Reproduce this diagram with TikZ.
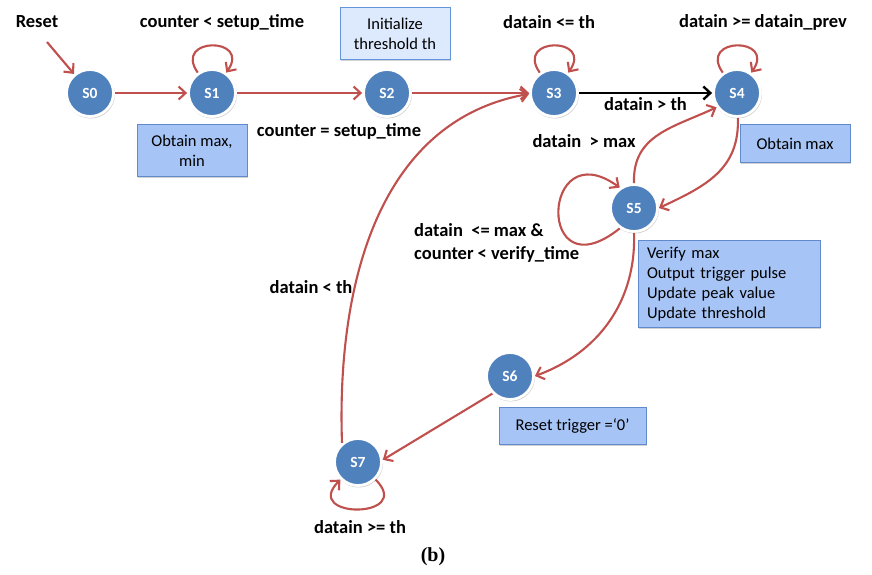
\documentclass[tikz,border=0pt]{standalone}
\usepackage{fontspec}
\setmainfont{Carlito}
\newfontfamily\captionserif{Liberation Serif}
\usepackage{tikz}
\usetikzlibrary{arrows.meta,positioning,shadows}
\definecolor{statefill}{RGB}{79,129,189}
\definecolor{transred}{RGB}{192,80,77}
\definecolor{notefill}{RGB}{166,196,246}
\definecolor{notedraw}{RGB}{96,138,204}
\definecolor{initfill}{RGB}{221,233,252}
\definecolor{initdraw}{RGB}{100,148,218}

\begin{document}
\begin{tikzpicture}[x=1pt, y=1pt,
    state/.style={circle, fill=statefill, draw=white, line width=2.8pt, minimum size=47pt, inner sep=0pt, text=white, font=\fontsize{15.5}{18}\selectfont\bfseries, drop shadow={opacity=0.4, shadow xshift=0.6pt, shadow yshift=-1pt, shadow scale=1.04}},
    note/.style={rectangle, fill=notefill, draw=notedraw, line width=0.9pt, font=\fontsize{16.5}{20}\selectfont, drop shadow={opacity=0.35, shadow xshift=1.2pt, shadow yshift=-1.2pt}},
    cond/.style={font=\fontsize{18.5}{23}\selectfont\bfseries, inner sep=1pt},
    trans/.style={draw=transred, line width=2.1pt, -{Straight Barb[length=7pt,width=13pt]}},
    selfloop/.style={looseness=1, min distance=44pt},
    node distance=6pt
]
    \fill[white] (0,0) rectangle (872,-574);
    \useasboundingbox (0,0) rectangle (872,-574);

    % states
    \node[state] (s0) at (90,-93) {S0};
    \node[state] (s1) at (212,-93) {S1};
    \node[state] (s2) at (387,-93) {S2};
    \node[state] (s3) at (554,-93) {S3};
    \node[state] (s4) at (737,-93) {S4};
    \node[state] (s5) at (634,-208) {S5};
    \node[state] (s6) at (510,-376) {S6};
    \node[state] (s7) at (358,-462) {S7};

    % actions of the states
    \node[note, minimum width=110pt, minimum height=52pt, align=center, below=of s1, xshift=-20pt] (minmax) {Obtain max,\\min};
    \node[note, fill=initfill, draw=initdraw, minimum width=110pt, minimum height=52pt, align=center, above=8pt of s2, xshift=8pt] (initth) {Initialize\\threshold th};
    \node[note, minimum width=110pt, minimum height=38pt, below=of s4, xshift=58pt] (getmax) {Obtain max};
    \node[note, minimum width=182pt, minimum height=87pt, text width=164pt, inner xsep=9pt, align=left, below=7pt of s5, xshift=95pt] (verify) {Verify max\\Output trigger pulse\\Update peak value\\Update threshold};
    \node[note, minimum width=147pt, minimum height=37pt, below=of s6, xshift=62.5pt] (trigoff) {Reset trigger =‘0’};

    % conditions
    \node[cond] (lreset) at (37,-22) {Reset};
    \node[cond] (lsetupwait) at (222,-22) {counter < setup\_time};
    \node[cond] (lsetupdone) at (339,-131) {counter = setup\_time};
    \node[cond] (lbelowth) at (549,-22) {datain <= th};
    \node[cond] (lrising) at (763,-22) {datain >= datain\_prev};
    \node[cond] (lgtmax) at (584,-141) {datain\ \ > max};
    \node[cond, anchor=west, align=left] (lverify) at (413,-243) {datain\ \ <= max \&\\counter < verify\_time};
    \node[cond] (llowth) at (311,-287) {datain < th};
    \node[cond] (lholdth) at (360,-527) {datain >= th};
    \node[font=\captionserif\fontsize{20}{22}\selectfont\bfseries] (caption) at (433,-557) {(b)};

    % transitions
    \coordinate (rstart) at (47,-42);
    \draw[trans] (rstart) -- (s0.130);
    \draw[trans] (s0) -- (s1);
    \draw[trans] (s1) to[out=125, in=55, selfloop] (s1);
    \draw[trans] (s1) -- (s2);
    \draw[trans] (s2) -- (s3);
    \draw[trans] (s3) to[out=125, in=55, selfloop] (s3);
    \draw[line width=2.4pt, -{Straight Barb[length=7pt,width=13pt]}] (s3) -- node[cond, below=2pt] (lgtth) {datain > th} (s4);
    \draw[trans] (s4) to[out=125, in=55, selfloop] (s4);
    \draw[trans] (s4.272) to[out=-88, in=25, looseness=1.1] (s5.east);
    \draw[trans] (s5.north) to[out=92, in=205, looseness=1.1] (s4.215);
    \draw[trans] (s5.235) .. controls +(-84,-67) and +(-79,57) .. (s5.125);
    \draw[trans] (s5.south) to[out=-88, in=20] (s6.east);
    \draw[trans] (s6.225) -- (s7.5);
    \draw[trans] (s7) to[out=-45, in=-135, looseness=1, min distance=56pt] (s7);
    \draw[trans] (s7.130) to[out=92, in=190] (s3.182);
\end{tikzpicture}
\end{document}
